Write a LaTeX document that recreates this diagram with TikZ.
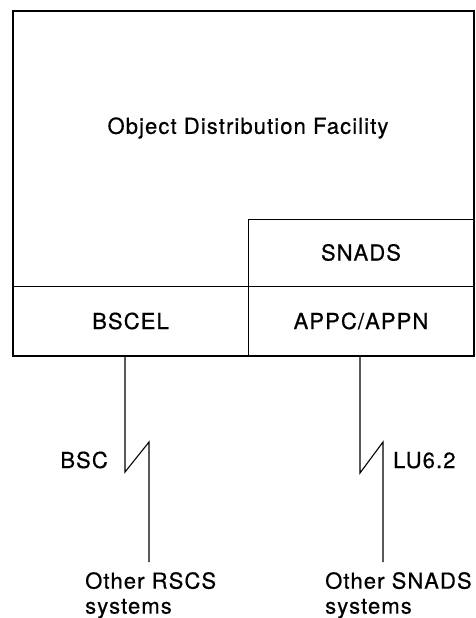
\documentclass[tikz,border=0pt]{standalone}
\usepackage{fontspec}
\setmainfont{TeX Gyre Heros}[LetterSpace=5, FakeBold=0.6]
\usepackage{tikz}
\usetikzlibrary{positioning, calc}

\begin{document}
\begin{tikzpicture}[x=1pt, y=-1pt,
        txt/.style={font=\fontsize{22}{25}\selectfont, inner sep=0pt},
        layer/.style={txt, draw, line width=1pt},
        frame/.style={line width=1.6pt},
        wire/.style={line width=1.1pt, line join=miter}]
        \useasboundingbox (0,0) rectangle (475,618);

        \draw[frame] (13,11) rectangle (474,356);% Outer Frame
        \node[txt] (odf) at (248,128) {Object Distribution Facility};

        \node[layer, minimum width=235pt, minimum height=70pt] (bscel) at (130.5,321) {BSCEL};
        \node[layer, minimum width=226pt, minimum height=70pt] (appc) at (361,321) {APPC/APPN};
        \node[layer, minimum width=226pt, minimum height=67pt] (snads) at (361,252.5) {SNADS};

        \coordinate (bscA) at (125,472);
        \coordinate (bscB) at (149,442);
        \coordinate (bscEnd) at (149,562);
        \coordinate (luA) at (360,473);
        \coordinate (luB) at (383,442);
        \coordinate (luEnd) at (383,562);

        \draw[wire] (bscel.south -| bscA) -- (bscA) -- (bscB) -- (bscEnd);% BSC Link
        \draw[wire] (appc.south -| luA) -- (luA) -- (luB) -- (luEnd);% LU6.2 Link

        \node[txt, anchor=base east] (bsc) at (108,468) {BSC};
        \node[txt, anchor=base west] (lu) at (393,468) {LU6.2};

        \node[txt, align=left, anchor=north west] (rscs) at (85,572) {Other RSCS\\systems};
        \node[txt, align=left, anchor=north west] (others) at (325,572) {Other SNADS\\systems};
    \end{tikzpicture}
\end{document}
